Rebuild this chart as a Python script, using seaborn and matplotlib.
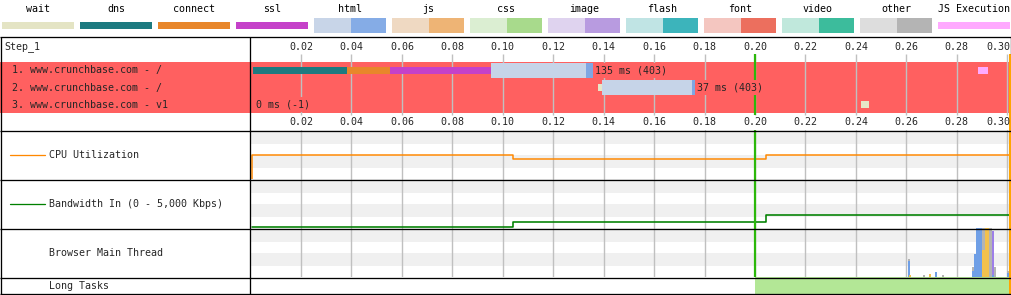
import numpy as np
import pandas as pd
import matplotlib
matplotlib.use("Agg")
import matplotlib.pyplot as plt
from matplotlib.patches import Rectangle
import seaborn as sns

# ---------------- data ----------------
legend_labels = ["wait", "dns", "connect", "ssl", "html", "js", "css", "image",
                 "flash", "font", "video", "other", "JS Execution"]
legend_light = ["#e4e4c4", "#1d7a80", "#e8862a", "#c541c9", "#c8d5e8", "#efd9c2",
                "#dbeed2", "#dfd3ef", "#c0e4e4", "#f4c6c0", "#c0e8dc", "#dddddd", "#ffaaff"]
legend_dark = [None, None, None, None, "#85ace6", "#eeb475", "#a8da8c", "#b89be0",
               "#3cb4bb", "#ec6f5e", "#3cbc9c", "#b4b4b4", None]

step_label = "Step_1"
request_labels = ["1. www.crunchbase.com - /",
                  "2. www.crunchbase.com - /",
                  "3. www.crunchbase.com - v1"]
seg_row = [1, 1, 1, 1, 1, 2, 2, 2, 3, 1]
seg_kind = ["dns", "connect", "ssl", "html", "html_dl", "wait", "html", "html_dl", "wait", "js_exec"]
seg_start = [0.0008, 0.0381, 0.0553, 0.0953, 0.1330, 0.1376, 0.1392, 0.1749, 0.2420, 0.2883]
seg_end = [0.0381, 0.0553, 0.0953, 0.1330, 0.1359, 0.1392, 0.1749, 0.1763, 0.2453, 0.2924]

timing_text = ["135 ms (403)", "37 ms (403)", "0 ms (-1)"]
timing_x = [0.1367, 0.1771, 0.0022]

ticks = [0.02, 0.04, 0.06, 0.08, 0.10, 0.12, 0.14, 0.16, 0.18, 0.20,
         0.22, 0.24, 0.26, 0.28, 0.30]
tick_labels = ["0.02", "0.04", "0.06", "0.08", "0.10", "0.12", "0.14", "0.16",
               "0.18", "0.20", "0.22", "0.24", "0.26", "0.28", "0.30"]

start_render = 0.200
doc_complete = 0.3013

cpu_t = [0.0004, 0.0004, 0.1040, 0.2044, 0.3013]
cpu_v = [0.0, 49.5, 40.8, 49.0, 49.0]
bw_t = [0.0004, 0.1040, 0.2044, 0.3013]
bw_v = [60, 640, 1330, 1330]

mt_t = [0.2611, 0.2616, 0.2670, 0.2694, 0.2718, 0.2745, 0.2866, 0.2874, 0.2882,
        0.2890, 0.2898, 0.2906, 0.2914, 0.2922, 0.2930, 0.2937, 0.2945, 0.2953, 0.3003]
mt_loading = [33, 0, 0, 0, 10, 0, 12, 47, 100, 100, 100, 0, 0, 0, 0, 0, 4, 0, 8]
mt_scripting = [0, 4, 0, 6, 0, 0, 0, 0, 0, 0, 0, 55, 100, 100, 0, 0, 0, 0, 0]
mt_rendering = [0, 0, 0, 0, 0, 0, 0, 0, 0, 0, 0, 0, 0, 0, 0, 0, 90, 0, 0]
mt_other = [4, 0, 4, 0, 0, 4, 8, 0, 0, 0, 0, 45, 0, 0, 100, 100, 0, 20, 4]

long_task_start = [0.200]
long_task_end = [0.3013]

# ---------------- styling ----------------
kind_color = {"dns": "#1d7a80", "connect": "#e8862a", "ssl": "#c541c9",
              "html": "#c6d4e8", "html_dl": "#7fa6e2", "wait": "#e6e6c8",
              "js_exec": "#ffaaff"}
kind_height = {"dns": 0.41, "connect": 0.41, "ssl": 0.41, "html": 0.88,
               "html_dl": 0.88, "wait": 0.41, "js_exec": 0.40}
RED = "#ff6060"
GRID = "#c0c0c0"
STRIPE = "#f0f0f0"
GREEN_LINE = "#2cb80a"
ORANGE_END = "#ffa500"

sns.set_theme(style="white")
plt.rcParams["font.family"] = ["DejaVu Sans Mono", "DejaVu Sans"]
FS = 7.2
plt.rcParams["font.size"] = FS

W, H = 1012, 295
fig = plt.figure(figsize=(W / 100, H / 100), dpi=100)
fig.patch.set_facecolor("white")


def px_axes(x0, y0, x1, y1, z=1):
    ax = fig.add_axes([x0 / W, 1 - y1 / H, (x1 - x0) / W, (y1 - y0) / H], zorder=z)
    ax.set_facecolor("none")
    ax.axis("off")
    return ax


def px_lw(px):
    return px * 72 / 100


PX0 = 250.6
PXS = 2522.0
CL, CR = 250.5, 1010.5
XLIM = ((CL - PX0) / PXS, (CR - PX0) / PXS)


def r_of(y):
    return (y - 53.5) / 17.0


# ---------------- legend ----------------
lg = px_axes(0, 0, W, 36)
lg.set_xlim(0, W)
lg.set_ylim(36, 0)
for i, lab in enumerate(legend_labels):
    left = 2 + 78 * i
    lg.text(left + 36, 8.5, lab, ha="center", va="center", fontsize=FS, color="black")
    if legend_dark[i] is None:
        lg.add_patch(Rectangle((left, 22), 72, 7, color=legend_light[i], lw=0))
    else:
        lg.add_patch(Rectangle((left, 18), 37, 15, color=legend_light[i], lw=0))
        lg.add_patch(Rectangle((left + 37, 18), 35, 15, color=legend_dark[i], lw=0))

# ---------------- waterfall left labels ----------------
wl = px_axes(0.5, 36, CL, 130)
wl.set_xlim(0.5, CL)
wl.set_ylim(r_of(130), r_of(36))
wl.axhspan(0.5, 3.5, color=RED, lw=0)
wl.text(4, r_of(47), step_label, ha="left", va="center", fontsize=FS)
for i, lab in enumerate(request_labels):
    wl.text(12, i + 1, lab, ha="left", va="center", fontsize=FS)

# ---------------- waterfall chart ----------------
wf = px_axes(CL, 36, CR, 130)
wf.set_xlim(*XLIM)
wf.set_ylim(r_of(130), r_of(36))
wf.axhspan(0.5, 3.5, color=RED, lw=0, zorder=0)
wf.vlines(ticks, r_of(54), r_of(115), color=GRID, lw=px_lw(1.4), zorder=1)
wf.vlines([start_render], r_of(54), r_of(115), color=GREEN_LINE, lw=px_lw(2.2), zorder=1.5)
wf.vlines([doc_complete], r_of(54), r_of(130), color=ORANGE_END, lw=px_lw(2), zorder=1.5,
          clip_on=False)
for row, kind, s, e in zip(seg_row, seg_kind, seg_start, seg_end):
    wf.barh(row, e - s, left=s, height=kind_height[kind], color=kind_color[kind],
            lw=0, zorder=3)
for i, (txt, x) in enumerate(zip(timing_text, timing_x)):
    wf.text(x, i + 1, txt, ha="left", va="center", fontsize=FS, zorder=4,
            bbox=dict(facecolor=RED, edgecolor="none", pad=1.9))
n_ticks = len(ticks)
for k, (t, lab) in enumerate(zip(ticks, tick_labels)):
    if k == n_ticks - 1:
        # last label sits at the right edge of the plot area
        for ry in (r_of(47), r_of(122)):
            wf.text(XLIM[1], ry, lab, ha="right", va="center", fontsize=FS)
    else:
        wf.text(t, r_of(47), lab, ha="center", va="center", fontsize=FS)
        wf.text(t, r_of(122), lab, ha="center", va="center", fontsize=FS)


# ---------------- lower panels ----------------
def panel(y0, y1, ylim):
    ax = px_axes(CL, y0, CR, y1)
    ax.set_xlim(*XLIM)
    ax.set_ylim(*ylim)
    ax.add_patch(Rectangle((0, 0.714), 1, 0.286, transform=ax.transAxes,
                           color=STRIPE, lw=0, zorder=0))
    ax.add_patch(Rectangle((0, 0.224), 1, 0.266, transform=ax.transAxes,
                           color=STRIPE, lw=0, zorder=0))
    for t in ticks:
        ax.axvline(t, color=GRID, lw=px_lw(1.4), zorder=1)
    ax.axvline(start_render, color=GREEN_LINE, lw=px_lw(2.2), zorder=4)
    ax.axvline(doc_complete, color=ORANGE_END, lw=px_lw(2), zorder=4, clip_on=False)
    return ax


cpu = panel(130, 179, (0, 100))
sns.lineplot(x=cpu_t, y=cpu_v, ax=cpu, estimator=None, drawstyle="steps-post",
             color="#ff8800", lw=px_lw(1.5), zorder=3)
cpu.axis("off")

bw = panel(179, 228, (0, 5000))
sns.lineplot(x=bw_t, y=bw_v, ax=bw, estimator=None, drawstyle="steps-post",
             color="#008000", lw=px_lw(1.6), zorder=3)
bw.axis("off")

mt = panel(228, 277, (0, 100))
bottom = np.zeros(len(mt_t))
for vals, col in [(mt_loading, "#6f9fe6"), (mt_scripting, "#f2c14e"),
                  (mt_rendering, "#9d7fe8"), (mt_other, "#b4b4b4")]:
    v = np.array(vals, dtype=float)
    mt.bar(mt_t, v, bottom=bottom, width=0.00082, color=col, lw=0, zorder=3)
    bottom += v

lt = px_axes(CL, 277, CR, 294)
lt.set_xlim(*XLIM)
lt.set_ylim(0, 1)
for s, e in zip(long_task_start, long_task_end):
    lt.axvspan(s, e, color="#b3e796", lw=0)
lt.axvline(doc_complete, color=ORANGE_END, lw=px_lw(2), zorder=4, clip_on=False)

# ---------------- lower left labels ----------------
ll = px_axes(0.5, 130, CL, 294)
ll.set_xlim(0.5, CL)
ll.set_ylim(294, 130)
ll.plot([10, 45], [154.7, 154.7], color="#ff8800", lw=px_lw(1.3))
ll.text(49, 155, "CPU Utilization", ha="left", va="center", fontsize=FS)
ll.plot([10, 45], [203.7, 203.7], color="#008000", lw=px_lw(1.3))
ll.text(49, 204, "Bandwidth In (0 - 5,000 Kbps)", ha="left", va="center", fontsize=FS)
ll.text(49, 253, "Browser Main Thread", ha="left", va="center", fontsize=FS)
ll.text(49, 286, "Long Tasks", ha="left", va="center", fontsize=FS)

# ---------------- frame lines ----------------
ov = px_axes(0, 0, W, H, z=10)
ov.set_xlim(0, W)
ov.set_ylim(H, 0)
blw = px_lw(1.3)
ov.hlines([36.5, 130.5, 179.5, 228.5, 277.5, 294], 0, 1011, color="black", lw=blw)
ov.vlines([0.7, 250.5], 36.5, 294, color="black", lw=blw)
ov.vlines([1011], 36.5, 54, color="black", lw=blw)

fig.savefig("out.png", dpi=100)
